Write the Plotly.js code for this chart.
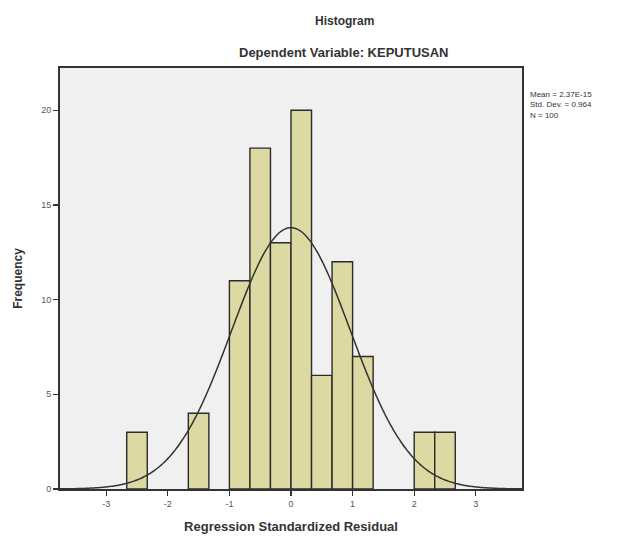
<!DOCTYPE html>
<html>
<head>
<meta charset="utf-8">
<script src="https://cdn.plot.ly/plotly-3.0.1.min.js"></script>
<style>
  html, body { margin: 0; padding: 0; background: #ffffff; }
  #chart { width: 624px; height: 539px; }
</style>
</head>
<body>
<div id="chart"></div>
<script>
// Histogram bins (bin width 1/3)
const binCenters = [-2.5, -1.5, -0.8333, -0.5, -0.1667, 0.1667, 0.5, 0.8333, 1.1667, 2.1667, 2.5];
const counts     = [3, 4, 11, 18, 13, 20, 6, 12, 7, 3, 3];
const binWidth = 1 / 3;

// Summary statistics shown in the legend
const meanValue = 2.37e-15;
const stdDev = 0.964;
const nCases = 100;
const statLabels = ["Mean = 2.37E-15", "Std. Dev. = 0.964", "N = 100"];

const xTicks = [-3, -2, -1, 0, 1, 2, 3];
const yTicks = [0, 5, 10, 15, 20];

// Fitted normal curve (scaled to counts) from the stated mean / sd / N
const curveX = [];
const curveY = [];
for (let i = 0; i <= 300; i++) {
  const x = -3.75 + 7.5 * i / 300;
  const z = (x - meanValue) / stdDev;
  curveX.push(x);
  curveY.push(nCases * binWidth * Math.exp(-0.5 * z * z) / (stdDev * Math.sqrt(2 * Math.PI)));
}

const traces = [
  {
    type: 'bar',
    x: binCenters,
    y: counts,
    width: binWidth,
    marker: { color: '#dcd9a2', line: { color: '#2b2b2b', width: 1.4 } },
    hoverinfo: 'x+y'
  },
  {
    type: 'scatter',
    mode: 'lines',
    x: curveX,
    y: curveY,
    line: { color: '#333333', width: 1.5, shape: 'spline' },
    hoverinfo: 'skip'
  }
];

const font = "'Liberation Sans', Arial, sans-serif";

const layout = {
  width: 624,
  height: 539,
  margin: { l: 60, r: 102, t: 68, b: 50 },
  paper_bgcolor: '#ffffff',
  plot_bgcolor: '#f0f0f0',
  showlegend: false,
  bargap: 0,
  font: { family: font, color: '#333333', size: 9 },
  xaxis: {
    range: [-3.75, 3.75],
    tickvals: xTicks,
    ticktext: xTicks.map(String),
    ticks: 'outside',
    ticklen: 5,
    tickwidth: 1.2,
    tickcolor: '#333333',
    showgrid: false,
    zeroline: false,
    showline: true,
    linecolor: '#333333',
    linewidth: 2,
    mirror: true,
    tickfont: { size: 9, color: '#555555', family: font },
    title: { text: '<b>Regression Standardized Residual</b>', font: { size: 13, color: '#333333', family: font }, standoff: 14 }
  },
  yaxis: {
    range: [0, 22.23],
    tickvals: yTicks,
    ticktext: yTicks.map(String),
    ticks: 'outside',
    ticklen: 5,
    tickwidth: 1.2,
    tickcolor: '#333333',
    showgrid: false,
    zeroline: false,
    showline: true,
    linecolor: '#333333',
    linewidth: 2,
    mirror: true,
    tickfont: { size: 9, color: '#555555', family: font },
    title: { text: '<b>Frequency</b>', font: { size: 12, color: '#333333', family: font }, standoff: 16 }
  },
  annotations: [
    { text: '<b>Histogram</b>', xref: 'paper', yref: 'paper', x: 0.615, y: 1, yshift: 47, xanchor: 'center', yanchor: 'middle', showarrow: false, font: { size: 12, color: '#333333', family: font } },
    { text: '<b>Dependent Variable: KEPUTUSAN</b>', xref: 'paper', yref: 'paper', x: 0.615, y: 1, yshift: 16, xanchor: 'center', yanchor: 'middle', showarrow: false, font: { size: 13, color: '#333333', family: font } },
    { text: statLabels.join('<br>'), xref: 'paper', yref: 'paper', x: 1, xshift: 6, y: 1, yshift: -20, xanchor: 'left', yanchor: 'top', align: 'left', showarrow: false, font: { size: 8, color: '#333333', family: font } }
  ]
};

Plotly.newPlot('chart', traces, layout, { displayModeBar: false, staticPlot: true });
</script>
</body>
</html>
